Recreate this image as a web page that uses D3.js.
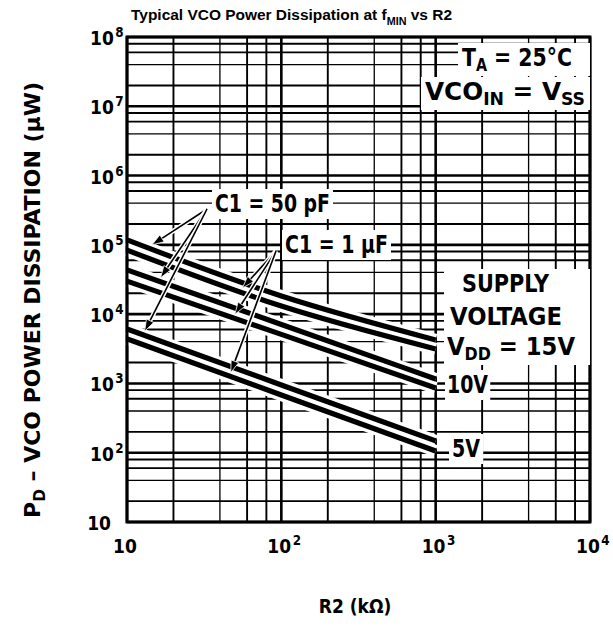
<!DOCTYPE html>
<html>
<head>
<meta charset="utf-8">
<script src="https://cdn.jsdelivr.net/npm/d3@7"></script>
<style>
body { margin: 0; background: #fff; }
svg text { font-family: "DejaVu Sans Condensed", "Liberation Sans Narrow", "DejaVu Sans", sans-serif; font-stretch: condensed; font-weight: bold; fill: #000; }
svg text.title { font-family: "Liberation Sans", Arial, sans-serif; font-stretch: normal; }
</style>
</head>
<body>
<div id="chart"></div>
<script>
// R2 (kOhm) sample points and power dissipation (uW)
var r2 = [10, 100, 1000];
var vdd15_50pF = [1.18e5, 1.83e4, 4.25e3];
var vdd15_1uF  = [8.4e4, 1.31e4, 3.15e3];
var vdd10_50pF = [4.35e4, 7.1e3, 1.16e3];
var vdd10_1uF  = [3.0e4, 5.1e3, 8.6e2];
var vdd5_50pF  = [6.1e3, 9.5e2, 1.48e2];
var vdd5_1uF   = [4.4e3, 6.8e2, 1.06e2];

var xTicks = [10, 100, 1000, 10000];
var yTicks = [10, 1e2, 1e3, 1e4, 1e5, 1e6, 1e7, 1e8];
var minorSteps = [2, 4, 6, 8];

var curves = [
    {name: "15V_50", c1: "50pF", values: vdd15_50pF},
    {name: "15V_1u", c1: "1uF", values: vdd15_1uF},
    {name: "10V_50", c1: "50pF", values: vdd10_50pF},
    {name: "10V_1u", c1: "1uF", values: vdd10_1uF},
    {name: "5V_50", c1: "50pF", values: vdd5_50pF},
    {name: "5V_1u", c1: "1uF", values: vdd5_1uF}
];

// arrows from the C1 labels to the curves (R2 where they land)
var arrows50pF = [["15V_50", 14.5], ["10V_50", 16.5], ["5V_50", 13]];
var arrows1uF  = [["15V_1u", 56], ["10V_1u", 50], ["5V_1u", 47]];

var W = 613, H = 627;
var margin = {top: 37, right: 23, bottom: 105, left: 127},
    width = W - margin.left - margin.right,
    height = H - margin.top - margin.bottom;

var svg = d3.select("#chart").append("svg")
    .attr("width", W)
    .attr("height", H);

var g = svg.append("g")
    .attr("transform", "translate(" + margin.left + "," + margin.top + ")");

var x = d3.scaleLog().domain([10, 1e4]).range([0, width]);
var y = d3.scaleLog().domain([10, 1e8]).range([height, 0]);

function minors(ticks) {
    var out = [];
    ticks.slice(0, -1).forEach(function(d) {
        minorSteps.forEach(function(m) { out.push(d * m); });
    });
    return out;
}

// grid
g.selectAll(".vminor").data(minors(xTicks)).enter().append("line")
    .attr("x1", function(d) { return x(d); }).attr("x2", function(d) { return x(d); })
    .attr("y1", 0).attr("y2", height)
    .attr("stroke", "#000").attr("stroke-width", function(d, i) { return i % 4 == 1 ? 1.3 : 1.9; });
g.selectAll(".hminor").data(minors(yTicks)).enter().append("line")
    .attr("y1", function(d) { return y(d); }).attr("y2", function(d) { return y(d); })
    .attr("x1", 0).attr("x2", width)
    .attr("stroke", "#000").attr("stroke-width", function(d, i) { return i % 4 == 1 ? 1.3 : 1.9; });
g.selectAll(".vmajor").data(xTicks).enter().append("line")
    .attr("x1", function(d) { return x(d); }).attr("x2", function(d) { return x(d); })
    .attr("y1", 0).attr("y2", height)
    .attr("stroke", "#000").attr("stroke-width", 2.6);
g.selectAll(".hmajor").data(yTicks).enter().append("line")
    .attr("y1", function(d) { return y(d); }).attr("y2", function(d) { return y(d); })
    .attr("x1", 0).attr("x2", width)
    .attr("stroke", "#000").attr("stroke-width", 2.6);

// curves
var line = d3.line()
    .x(function(d) { return x(d[0]); })
    .y(function(d) { return y(d[1]); })
    .curve(d3.curveMonotoneX);

function pts(c) { return r2.map(function(r, i) { return [r, c.values[i]]; }); }

g.selectAll(".halo").data(curves).enter().append("path")
    .attr("d", function(c) { return line(pts(c)); })
    .attr("fill", "none").attr("stroke", "#fff").attr("stroke-width", 12);
g.selectAll(".curve").data(curves).enter().append("path")
    .attr("d", function(c) { return line(pts(c)); })
    .attr("fill", "none").attr("stroke", "#000").attr("stroke-width", 5.2);

function curveY(name, r) {
    var c = curves.filter(function(d) { return d.name == name; })[0];
    var s = d3.scaleLog().domain(r2).range(c.values.map(Math.log10));
    return y(Math.pow(10, s(r)));
}

// text helper: parts = [[text, "sub"|"sup"|null], ...]
function label(parent, px, py, parts, opt) {
    opt = opt || {};
    var t = parent.append("text")
        .attr("x", px).attr("y", py)
        .attr("font-size", opt.size || 24)
        .attr("text-anchor", opt.anchor || "start");
    if (opt.cls) t.attr("class", opt.cls);
    var shift = 0;
    parts.forEach(function(p) {
        var ts = t.append("tspan").text(p[0]);
        var target = p[1] == "sub" ? 5 : p[1] == "sup" ? -8 : 0;
        if (target != shift) ts.attr("dy", target - shift);
        if (p[1] == "sup") ts.attr("dx", 1.5);
        shift = target;
        if (p[1]) ts.attr("font-size", (opt.size || 24) * 0.7);
    });
    if (opt.len) t.attr("textLength", opt.len).attr("lengthAdjust", "spacingAndGlyphs");
    return t;
}

function box(parent, texts, pad, toRight) {
    var bb = texts.map(function(t) { return t.node().getBBox(); });
    var x0 = d3.min(bb, function(b) { return b.x; }) - pad,
        y0 = d3.min(bb, function(b) { return b.y; }) - 1,
        x1 = toRight ? width + margin.left : d3.max(bb, function(b) { return b.x + b.width; }) + pad,
        y1 = d3.max(bb, function(b) { return b.y + b.height; }) + 1;
    parent.insert("rect", "text")
        .attr("x", x0).attr("y", y0).attr("width", x1 - x0).attr("height", y1 - y0)
        .attr("fill", "#fff");
}

var ann = svg.append("g");

// C1 labels with arrows
var l50 = label(ann, 215, 212, [["C1 = 50 pF"]], {len: 115});
var l1u = label(ann, 285, 253, [["C1 = 1 \u00b5F"]], {len: 103});
box(ann, [l50], 3);
box(ann, [l1u], 3);

function drawArrows(list, ox, oy) {
    list.forEach(function(a) {
        var tx = x(a[1]) + margin.left, ty = curveY(a[0], a[1]) + margin.top - 4;
        var ang = Math.atan2(ty - oy, tx - ox), hl = 12, hw = 4;
        var bx = tx - hl * Math.cos(ang), by = ty - hl * Math.sin(ang);
        ann.append("line").attr("x1", ox).attr("y1", oy).attr("x2", bx).attr("y2", by)
            .attr("stroke", "#fff").attr("stroke-width", 4.5);
        ann.append("line").attr("x1", ox).attr("y1", oy).attr("x2", bx).attr("y2", by)
            .attr("stroke", "#000").attr("stroke-width", 1.6);
        ann.append("path")
            .attr("d", "M" + tx + "," + ty +
                "L" + (bx + hw * Math.sin(ang)) + "," + (by - hw * Math.cos(ang)) +
                "L" + (bx - hw * Math.sin(ang)) + "," + (by + hw * Math.cos(ang)) + "Z")
            .attr("fill", "#000").attr("stroke", "#fff").attr("stroke-width", 0.8);
    });
}
drawArrows(arrows50pF, 207, 209);
drawArrows(arrows1uF, 276, 251);

// conditions (top right)
var cA = label(ann, 462, 66, [["T"], ["A", "sub"], [" = 25\u00b0C"]], {len: 110});
var cB = label(ann, 425, 100, [["VCO"], ["IN", "sub"], [" = V"], ["SS", "sub"]], {len: 160});
box(ann, [cA], 4, true);
box(ann, [cB], 4, true);

// supply voltage labels
var s1 = label(ann, 462, 292, [["SUPPLY"]], {len: 87});
var s2 = label(ann, 450, 325, [["VOLTAGE"]], {len: 112});
var s3 = label(ann, 447, 355, [["V"], ["DD", "sub"], [" = 15V"]], {len: 128});
box(ann, [s1, s2, s3], 3, true);
var s4 = label(ann, 447, 393, [["10V"]], {len: 41});
box(ann, [s4], 2);
var s5 = label(ann, 452, 457, [["5V"]], {len: 28});
box(ann, [s5], 3);

// frame
g.append("rect").attr("width", width).attr("height", height)
    .attr("fill", "none").attr("stroke", "#000").attr("stroke-width", 3);

// tick labels
yTicks.forEach(function(v) {
    var e = Math.round(Math.log10(v)), py = y(v) + margin.top + 8;
    if (e == 1) label(svg, 111, py, [["10"]], {size: 19, anchor: "end"});
    else label(svg, 90, py, [["10"], [String(e), "sup"]], {size: 19});
});
xTicks.forEach(function(v) {
    var e = Math.round(Math.log10(v)), px = x(v) + margin.left - 14;
    if (e == 1) label(svg, px, 553, [["10"]], {size: 19});
    else label(svg, px, 553, [["10"], [String(e), "sup"]], {size: 19});
});

// axis titles
label(svg, 355, 613, [["R2 (k\u03a9)"]], {size: 19, anchor: "middle"});
label(svg, 0, 0, [["P"], ["D", "sub"], [" \u2013 VCO POWER DISSIPATION (\u00b5W)"]], {size: 22, anchor: "middle", len: 436})
    .attr("transform", "translate(40,300) rotate(-90)").attr("x", 0).attr("y", 0);

// chart title
label(svg, 131, 20, [["Typical VCO Power Dissipation at f"], ["MIN", "sub"], [" vs R2"]], {size: 14.5, cls: "title", len: 321});
</script>
</body>
</html>
